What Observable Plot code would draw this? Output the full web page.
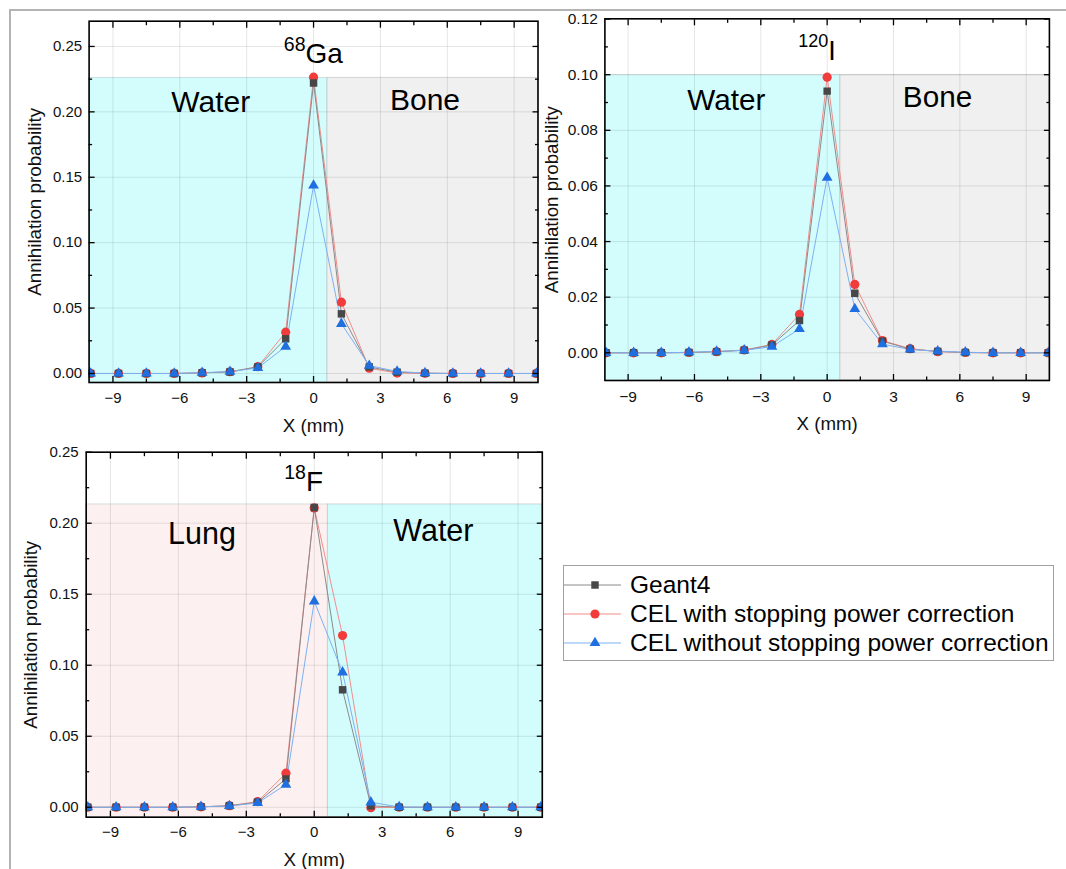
<!DOCTYPE html>
<html><head><meta charset="utf-8">
<script src="https://cdn.jsdelivr.net/npm/d3@7"></script>
<script src="https://cdn.jsdelivr.net/npm/@observablehq/plot@0.6"></script>
<style>
body{margin:0;background:#fff;font-family:"Liberation Sans",Arial,sans-serif;}
#root{position:relative;width:1066px;height:869px;overflow:hidden;background:#fff;}
.outer{position:absolute;left:9px;top:9px;width:1100px;height:900px;border-top:2px solid #b4b4b4;border-left:2px solid #b4b4b4;}
.panel{position:absolute;}
.panel svg{overflow:visible;}
.title{position:absolute;transform:translateX(-50%);white-space:nowrap;line-height:1;color:#000;}
.title span{position:relative;}
.legend{position:absolute;left:563px;top:565px;width:489px;height:94px;border:1px solid #a0a0a0;background:#fff;}
.row{position:absolute;left:0;height:30px;display:flex;align-items:center;white-space:nowrap;font-size:24.5px;line-height:30px;color:#000;}
.row svg{margin-right:9px;}
</style></head><body><div id="root"><div class="outer"></div></div>
<script>
// ---- data ----
const xPositions = [-10, -8.75, -7.5, -6.25, -5, -3.75, -2.5, -1.25, 0, 1.25, 2.5, 3.75, 5, 6.25, 7.5, 8.75, 10];
const seriesNames = ["Geant4", "CEL with stopping power correction", "CEL without stopping power correction"];

const gaGeant4     = [0, 0, 0, 0, 0.0005, 0.0012, 0.0050, 0.0265, 0.2220, 0.0456, 0.0050, 0.0010, 0.0002, 0, 0, 0, 0];
const gaCelWith    = [0, 0, 0, 0, 0.0004, 0.0013, 0.0052, 0.0316, 0.2265, 0.0545, 0.0040, 0.0003, 0.0001, 0, 0, 0, 0];
const gaCelWithout = [0, 0, 0, 0, 0.0006, 0.0014, 0.0042, 0.0206, 0.1437, 0.0380, 0.0060, 0.0015, 0.0003, 0, 0, 0, 0];

const iGeant4     = [0, 0, 0, 0.0001, 0.0004, 0.0009, 0.0028, 0.0116, 0.0941, 0.0214, 0.0042, 0.0013, 0.0005, 0.0001, 0, 0, 0];
const iCelWith    = [0, 0, 0, 0.0001, 0.0004, 0.0010, 0.0030, 0.0138, 0.0991, 0.0246, 0.0044, 0.0015, 0.0004, 0.0001, 0, 0, 0];
const iCelWithout = [0, 0, 0, 0.0002, 0.0005, 0.0009, 0.0022, 0.0086, 0.0630, 0.0158, 0.0031, 0.0012, 0.0006, 0.0002, 0, 0, 0];

const fGeant4     = [0, 0, 0, 0, 0.0003, 0.0010, 0.0035, 0.0200, 0.2110, 0.0827, 0.0010, 0, 0, 0, 0, 0, 0];
const fCelWith    = [0, 0, 0, 0, 0.0003, 0.0011, 0.0040, 0.0240, 0.2108, 0.1209, -0.0003, 0, 0, 0, 0, 0, 0];
const fCelWithout = [0, 0, 0, 0, 0.0004, 0.0009, 0.0030, 0.0160, 0.1450, 0.0950, 0.0035, 0.0002, 0, 0, 0, 0, 0];

const xMajorTicks = [-9, -6, -3, 0, 3, 6, 9];
const xMinorTicks = [-7.5, -4.5, -1.5, 1.5, 4.5, 7.5];
const yMajorTicksA = [0, 0.05, 0.10, 0.15, 0.20, 0.25];
const yMinorTicksA = [0.025, 0.075, 0.125, 0.175, 0.225];
const yMajorTicksB = [0, 0.02, 0.04, 0.06, 0.08, 0.10, 0.12];
const yMinorTicksB = [0.01, 0.03, 0.05, 0.07, 0.09, 0.11];

const xLabel = "X (mm)";
const yLabel = "Annihilation probability";

// ---- styles ----
const lineColors   = ["#8a8a8a", "#f28c8c", "#7cb0f2"];
const markerColors = ["#474747", "#f23c3c", "#1f6fe0"];
const markerSymbols = ["square", "circle", "triangle"];
const markerR = [4.2, 4.6, 4.0];
const drawOrder = [1, 0, 2];
const materialColor = {Water: "#d3fdfd", Bone: "#f0f0f0", Lung: "#fdf0f0"};
const FONT = "Liberation Sans, Arial, sans-serif";

const panels = [
  {
    left: 0, top: 0, width: 540, height: 440,
    margins: [20.7, 2.5, 58, 88.6],
    xDomain: [-10.07, 10.07], yDomain: [-0.0069, 0.2693],
    yMajor: yMajorTicksA, yMinor: yMinorTicksA,
    values: [gaGeant4, gaCelWith, gaCelWithout],
    boundary: 0.625, regionTop: 0.226, leftMat: "Water", rightMat: "Bone",
    labels: [{x: -4.61, y: 0.1998, text: "Water"}, {x: 5.0, y: 0.2016, text: "Bone"}],
    labelSize: 30, tickSize: 15, xTickPad: 9.7, yTickPad: 7,
    yLabelDx: -54, xLabelDy: 43, axisLabelSize: 18.8,
    title: {sup: "68", main: "Ga", cx: 313.4, baseline: 63.3, size: 28, supSize: 19.5, raise: 11.6}
  },
  {
    left: 540, top: 0, width: 526, height: 440,
    margins: [18.3, 17.1, 60, 64.4],
    xDomain: [-10.05, 10.05], yDomain: [-0.00996, 0.1201],
    yMajor: yMajorTicksB, yMinor: yMinorTicksB,
    values: [iGeant4, iCelWith, iCelWithout],
    boundary: 0.6, regionTop: 0.0998, leftMat: "Water", rightMat: "Bone",
    labels: [{x: -4.56, y: 0.0874, text: "Water"}, {x: 4.99, y: 0.0883, text: "Bone"}],
    labelSize: 29.7, tickSize: 15.5, xTickPad: 10.2, yTickPad: 7,
    yLabelDx: -52.7, xLabelDy: 43.3, axisLabelSize: 18.7,
    title: {sup: "120", main: "I", cx: 817.1, baseline: 60.7, size: 27, supSize: 18, raise: 12.4}
  },
  {
    left: 0, top: 430, width: 560, height: 439,
    margins: [21.7, 18.2, 52.3, 85.7],
    xDomain: [-10.07, 10.07], yDomain: [-0.007, 0.25],
    yMajor: yMajorTicksA, yMinor: yMinorTicksA,
    values: [fGeant4, fCelWith, fCelWithout],
    boundary: 0.6, regionTop: 0.2132, leftMat: "Lung", rightMat: "Water",
    labels: [{x: -4.96, y: 0.1855, text: "Lung"}, {x: 5.26, y: 0.1878, text: "Water"}],
    labelSize: 30.5, tickSize: 15, xTickPad: 9, yTickPad: 7.5,
    yLabelDx: -55.3, xLabelDy: 42.3, axisLabelSize: 18.8,
    title: {sup: "18", main: "F", cx: 303.6, baseline: 491.7, size: 28, supSize: 19.5, raise: 12.4}
  }
];

const root = document.getElementById("root");
const blank = () => "";

function makePanel(p) {
  const [xmin, xmax] = p.xDomain;
  const [ymin] = p.yDomain;
  const series = seriesNames.map((name, k) =>
    xPositions.map((x, i) => ({x, y: p.values[k][i], series: name})));
  const leftRegion = [{x1: xmin, x2: p.boundary, y1: ymin, y2: p.regionTop}];
  const rightRegion = [{x1: p.boundary, x2: xmax, y1: ymin, y2: p.regionTop}];

  const marks = [
    Plot.rect(leftRegion, {x1: "x1", x2: "x2", y1: "y1", y2: "y2", fill: materialColor[p.leftMat], stroke: "#b8c8c8", strokeWidth: 0.8, strokeOpacity: 0.7}),
    Plot.rect(rightRegion, {x1: "x1", x2: "x2", y1: "y1", y2: "y2", fill: materialColor[p.rightMat], stroke: "#b8b8b8", strokeWidth: 0.8, strokeOpacity: 0.7}),
    Plot.gridX(xMajorTicks, {stroke: "#000", strokeOpacity: 0.1, strokeWidth: 1}),
    Plot.gridY(p.yMajor, {stroke: "#000", strokeOpacity: 0.1, strokeWidth: 1}),
    Plot.text(p.labels, {x: "x", y: "y", text: "text", fontSize: p.labelSize, lineAnchor: "bottom", textAnchor: "middle", fill: "#000"})
  ];
  for (const k of drawOrder) {
    marks.push(Plot.line(series[k], {x: "x", y: "y", stroke: lineColors[k], strokeWidth: 1, clip: true}));
  }
  for (const k of drawOrder) {
    marks.push(Plot.dot(series[k], {x: "x", y: "y", symbol: markerSymbols[k], r: markerR[k], fill: markerColors[k], stroke: "none", clip: true}));
  }
  // tick labels
  marks.push(
    Plot.axisX(xMajorTicks, {anchor: "bottom", tickSize: 0, tickPadding: p.xTickPad, fontSize: p.tickSize, label: null, fill: "#111"}),
    Plot.axisY(p.yMajor, {anchor: "left", tickSize: 0, tickPadding: p.yTickPad, fontSize: p.tickSize, tickFormat: d3.format(".2f"), label: null, fill: "#111"})
  );
  // inward ticks on all four sides
  for (const anchor of ["bottom", "top"]) {
    marks.push(Plot.axisX(xMajorTicks, {anchor, tickSize: -6, tickFormat: blank, label: null, strokeWidth: 1.3}));
    marks.push(Plot.axisX(xMinorTicks, {anchor, tickSize: -3.5, tickFormat: blank, label: null, strokeWidth: 1.3}));
  }
  for (const anchor of ["left", "right"]) {
    marks.push(Plot.axisY(p.yMajor, {anchor, tickSize: -6, tickFormat: blank, label: null, strokeWidth: 1.3}));
    marks.push(Plot.axisY(p.yMinor, {anchor, tickSize: -3.5, tickFormat: blank, label: null, strokeWidth: 1.3}));
  }
  marks.push(
    Plot.text([yLabel], {text: d => d, frameAnchor: "left", textAnchor: "middle", lineAnchor: "middle", rotate: -90, dx: p.yLabelDx, fontSize: p.axisLabelSize, fill: "#111"}),
    Plot.text([xLabel], {text: d => d, frameAnchor: "bottom", textAnchor: "middle", lineAnchor: "middle", dy: p.xLabelDy, fontSize: p.axisLabelSize, fill: "#111"}),
    Plot.frame({stroke: "#000", strokeWidth: 1.6})
  );

  const svg = Plot.plot({
    width: p.width, height: p.height,
    marginTop: p.margins[0], marginRight: p.margins[1], marginBottom: p.margins[2], marginLeft: p.margins[3],
    x: {domain: p.xDomain, label: null},
    y: {domain: p.yDomain, label: null},
    style: {fontFamily: FONT, color: "#000", background: "transparent", overflow: "visible"},
    marks
  });
  const div = document.createElement("div");
  div.className = "panel";
  div.style.left = p.left + "px";
  div.style.top = p.top + "px";
  div.appendChild(svg);
  root.appendChild(div);

  const t = document.createElement("div");
  t.className = "title";
  t.style.left = p.title.cx + "px";
  t.style.fontSize = p.title.size + "px";
  t.style.top = (p.title.baseline - 0.8465 * p.title.size) + "px";
  const sup = document.createElement("span");
  sup.textContent = p.title.sup;
  sup.style.fontSize = p.title.supSize + "px";
  sup.style.top = (-p.title.raise) + "px";
  t.appendChild(sup);
  t.appendChild(document.createTextNode(p.title.main));
  root.appendChild(t);
}

panels.forEach(makePanel);

// ---- legend ----
const legend = document.createElement("div");
legend.className = "legend";
const rowCenters = [18.8, 47.5, 77];
seriesNames.forEach((name, k) => {
  const row = document.createElement("div");
  row.className = "row";
  row.style.top = (rowCenters[k] - 15) + "px";
  const w = 57, h = 20, cx = 31, cy = 10;
  const sym = d3.symbol().type({square: d3.symbolSquare, circle: d3.symbolCircle, triangle: d3.symbolTriangle}[markerSymbols[k]]).size(Math.PI * markerR[k] * markerR[k]);
  row.innerHTML = `<svg width="${w}" height="${h}"><line x1="0" x2="${w}" y1="${cy}" y2="${cy}" stroke="${lineColors[k]}" stroke-width="1"/><path transform="translate(${cx},${cy})" d="${sym()}" fill="${markerColors[k]}"/></svg><span>${name}</span>`;
  legend.appendChild(row);
});
root.appendChild(legend);
</script></body></html>
